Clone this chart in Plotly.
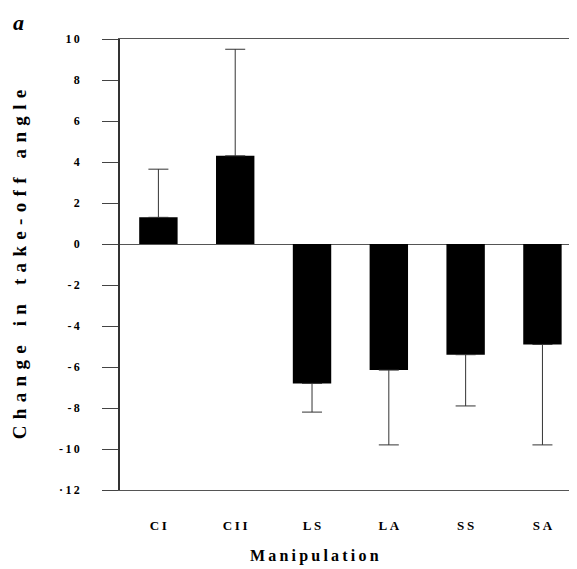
import plotly.graph_objects as go

categories = ["CI", "CII", "LS", "LA", "SS", "SA"]
cat_labels = ["C\u2009I", "C\u2009I\u2009I", "L\u2009S", "L\u2009A", "S\u2009S", "S\u2009A"]
means = [1.3, 4.3, -6.8, -6.15, -5.4, -4.9]
err_up = [2.35, 5.2, 0, 0, 0, 0]
err_down = [0, 0, 1.4, 3.65, 2.5, 4.9]
tick_vals = [10, 8, 6, 4, 2, 0, -2, -4, -6, -8, -10, -12]
tick_text = ["1\u20090", "8", "6", "4", "2", "0", "-\u20092", "-\u20094", "-\u20096", "-\u20098", "-\u20091\u20090", "\u00b7\u20091\u20092"]

FONT = "Liberation Serif"
SP = "\u2004"
WS = "\u00a0\u00a0\u00a0\u00a0"
ytitle = WS.join(SP.join(w) for w in ["Change", "in", "take-off", "angle"])
xtitle = "\u2009".join("Manipulation")

fig = go.Figure()
fig.add_trace(go.Bar(
    x=categories, y=means, width=0.5,
    marker=dict(color="black", line=dict(width=0)),
    error_y=dict(type="data", symmetric=False, array=err_up, arrayminus=err_down,
                 color="#333333", thickness=1, width=10),
))

fig.update_layout(
    width=569, height=561,
    margin=dict(l=112, r=0, t=31, b=79, autoexpand=False),
    plot_bgcolor="white", paper_bgcolor="white",
    showlegend=False,
    font=dict(family=FONT, color="black"),
    xaxis=dict(
        range=[-0.5, 5.45],
        tickvals=categories, ticktext=cat_labels,
        tickfont=dict(family=FONT, size=13, weight="bold"),
        ticks="", showgrid=False,
        showline=True, linecolor="#555555", linewidth=1.2, mirror=True,
        ticklabelstandoff=23,
    ),
    yaxis=dict(
        range=[-12, 10],
        tickvals=tick_vals, ticktext=tick_text,
        tickfont=dict(family=FONT, size=12, weight="bold"),
        ticks="outside", ticklen=16, tickcolor="#444444", tickwidth=1,
        ticklabelstandoff=20,
        showgrid=False,
        zeroline=True, zerolinecolor="#555555", zerolinewidth=1.2,
        showline=True, linecolor="#333333", linewidth=1.5,
        title=dict(text=ytitle, font=dict(family=FONT, size=19, weight="bold"), standoff=27),
    ),
    annotations=[
        dict(text="<b><i>a</i></b>", x=0.0, y=1.0, xref="paper", yref="paper",
             xanchor="left", yanchor="middle",
             xshift=-109, yshift=17, showarrow=False,
             font=dict(family=FONT, size=22, color="black")),
        dict(text=xtitle, x=0.425, y=0.0, xref="paper", yref="paper",
             xanchor="center", yanchor="middle", yshift=-66, showarrow=False,
             font=dict(family=FONT, size=16, weight="bold", color="black")),
    ],
)

fig.write_html("out.html")
